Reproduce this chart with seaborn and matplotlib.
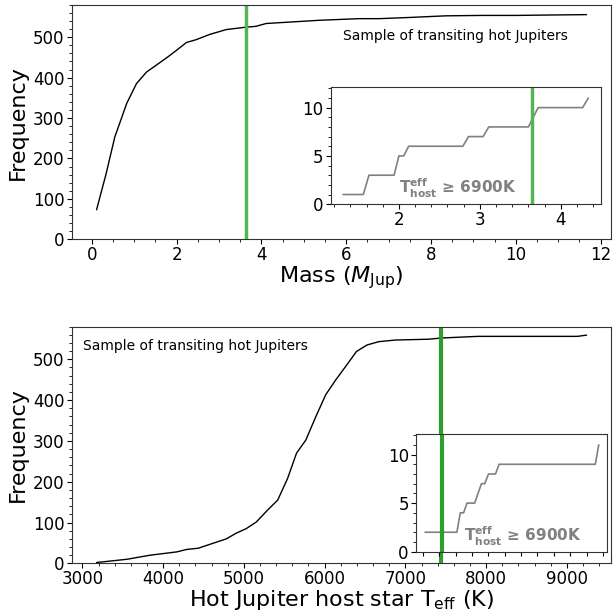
import matplotlib
matplotlib.use("Agg")
import matplotlib.pyplot as plt
from matplotlib.ticker import AutoMinorLocator, MultipleLocator, NullFormatter
import seaborn as sns
import pandas as pd

# cumulative number of hot Jupiters vs planet mass
mass = [0.11, 0.33, 0.54, 0.82, 1.05, 1.29, 1.52, 1.8, 2.0, 2.23, 2.46, 2.78, 3.17,
        3.64, 3.87, 4.11, 4.74, 5.37, 6.3, 6.78, 7.5, 8.35, 9.2, 10.0, 10.8, 11.67]
mass_count = [73, 160, 253, 336, 385, 414, 431, 452, 468, 487, 494, 507, 519,
              525, 527, 534, 538, 542, 546, 546, 549, 553, 554, 554, 555, 556]

# same for host star temperature
teff = [3176, 3553, 3840, 4168, 4292, 4434, 4783, 4906, 5029, 5152, 5296, 5419, 5541, 5652,
        5767, 5890, 6013, 6136, 6259, 6394, 6526, 6670, 6875, 7284, 7448, 7899, 9129, 9243]
teff_count = [2, 10, 20, 28, 34, 37, 60, 74, 85, 101, 131, 155, 208, 270,
              302, 359, 413, 449, 482, 519, 535, 543, 547, 549, 552, 556, 556, 559]

# hot hosts only (Teff >= 6900 K)
hot_mass = [1.31, 1.56, 1.63, 1.94, 2.0, 2.06, 2.12, 2.79, 2.86, 3.04, 3.11, 3.6, 3.72, 4.27, 4.34]
hot_mass_count = [1, 1, 3, 3, 5, 5, 6, 6, 7, 7, 8, 8, 10, 10, 11]
hot_teff = [7226, 7615, 7656, 7697, 7738, 7832, 7915, 7955, 8001, 8087, 8131, 9308, 9349]
hot_teff_count = [2, 2, 4, 4, 5, 5, 7, 7, 8, 8, 9, 9, 11]

# target object
target_mass = 3.64
target_teff = 7435

sample_text = "Sample of transiting hot Jupiters"
hot_text = r"$\mathbf{T^{eff}_{host}}$ ≥ 6900K"

sns.set_style("ticks")
plt.rcParams["font.family"] = ["DejaVu Sans"]
plt.rcParams.update({
    "text.color": "black", "axes.labelcolor": "black",
    "xtick.color": "black", "ytick.color": "black",
    "xtick.labelsize": 12, "ytick.labelsize": 12,
    "xtick.major.size": 3.5, "ytick.major.size": 3.5,
    "xtick.minor.size": 2, "ytick.minor.size": 2,
    "xtick.major.pad": 1.5, "ytick.major.pad": 2,
    "axes.labelpad": 0,
})

fig = plt.figure(figsize=(6.16, 6.15), dpi=100)
ax1 = fig.add_axes([0.117, 0.611, 0.875, 0.381])
ax2 = fig.add_axes([0.117, 0.084, 0.875, 0.385])
in1 = fig.add_axes([0.537, 0.668, 0.438, 0.190])
in2 = fig.add_axes([0.676, 0.103, 0.310, 0.191])

df_m = pd.DataFrame({"x": mass, "y": mass_count})
df_t = pd.DataFrame({"x": teff, "y": teff_count})
df_hm = pd.DataFrame({"x": hot_mass, "y": hot_mass_count})
df_ht = pd.DataFrame({"x": hot_teff, "y": hot_teff_count})

# top panel
sns.lineplot(data=df_m, x="x", y="y", ax=ax1, color="black", lw=1, estimator=None)
ax1.axvline(target_mass, color="#55b455", lw=2.5)
ax1.set_ylim(0, 580)
ax1.set_xlabel(r"Mass ($M_{\rm Jup}$)", fontsize=16)
ax1.set_ylabel("Frequency", fontsize=16)
ax1.text(0.502, 0.868, sample_text, transform=ax1.transAxes, fontsize=10, va="center")

sns.lineplot(data=df_hm, x="x", y="y", ax=in1, color="gray", lw=1.2, estimator=None)
in1.axvline(target_mass, color="#55b455", lw=2.5)
in1.set_ylim(0, 12.1)
in1.set_xlabel("")
in1.set_ylabel("")
in1.text(0.252, 0.137, hot_text, transform=in1.transAxes, fontsize=11, color="gray",
         fontweight="bold", va="center")

# bottom panel
sns.lineplot(data=df_t, x="x", y="y", ax=ax2, color="black", lw=1, estimator=None)
ax2.axvline(target_teff, color="#2e9e2e", lw=3)
ax2.set_ylim(0, 580)
ax2.set_xlabel(r"Hot Jupiter host star T$_{\rm eff}$ (K)", fontsize=16)
ax2.set_ylabel("Frequency", fontsize=16)
ax2.text(0.02, 0.918, sample_text, transform=ax2.transAxes, fontsize=10, va="center")

sns.lineplot(data=df_ht, x="x", y="y", ax=in2, color="gray", lw=1.2, estimator=None)
in2.axvline(target_teff, color="#2e9e2e", lw=3)
in2.set_ylim(0, 12.1)
in2.set_xlabel("")
in2.set_ylabel("")
in2.xaxis.set_major_locator(MultipleLocator(200))
in2.xaxis.set_major_formatter(NullFormatter())
in2.tick_params(axis="x", length=3)
in2.text(0.248, 0.127, hot_text, transform=in2.transAxes, fontsize=11, color="gray",
         fontweight="bold", va="center")

for ax in [ax1, ax2]:
    ax.yaxis.set_label_coords(-0.082, 0.5)
for ax in [ax1, ax2, in1]:
    ax.xaxis.set_minor_locator(AutoMinorLocator())
for ax in [ax1, ax2, in1, in2]:
    ax.yaxis.set_minor_locator(AutoMinorLocator())
    for s in ax.spines.values():
        s.set_color("#333333")

plt.savefig("out.png", dpi=100)
plt.close("all")
